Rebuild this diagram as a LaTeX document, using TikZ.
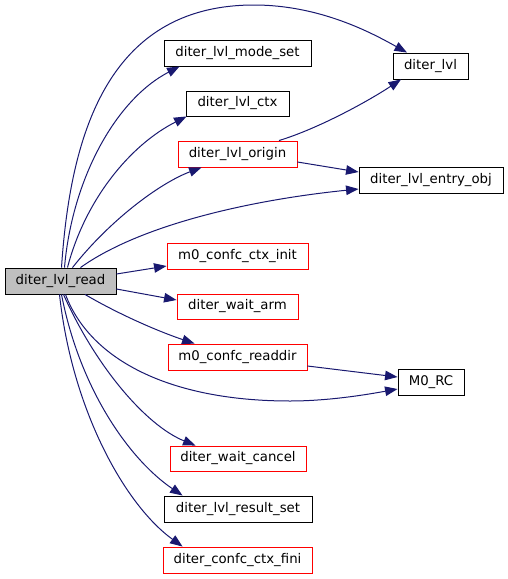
\documentclass[tikz,border=0pt]{standalone}
\usepackage{fontspec}
\setmainfont{DejaVu Sans}
\usetikzlibrary{arrows.meta,calc}
\definecolor{edgeblue}{HTML}{191970}
\definecolor{readgray}{HTML}{BFBFBF}
\begin{document}
\begin{tikzpicture}[x=1pt,y=-1pt,
  fn/.style={draw=black,line width=0.9pt,fill=white,minimum height=26pt,inner sep=0pt,
    font=\fontsize{13.3}{16}\selectfont,text=black},
  fnred/.style={fn,draw=red},
  call/.style={draw=edgeblue,line width=1pt,
    -{Triangle[length=12.5pt,width=9.5pt,fill=edgeblue]}}]
\useasboundingbox (0,0) rectangle (508,579);
\node[fn,fill=readgray,minimum width=111pt] (read) at (60.5,281) {diter\_lvl\_read};
\node[fn,minimum width=147pt] (modeset) at (237.5,53) {diter\_lvl\_mode\_set};
\node[fn,minimum width=103pt,minimum height=25pt] (ctx) at (237.5,103.5) {diter\_lvl\_ctx};
\node[fnred,minimum width=119pt] (origin) at (237.5,154) {diter\_lvl\_origin};
\node[fn,minimum width=75pt] (lvl) at (430.5,66) {diter\_lvl};
\node[fn,minimum width=144pt] (entry) at (431,180) {diter\_lvl\_entry\_obj};
\node[fnred,minimum width=141pt] (ctxinit) at (237.5,256) {m0\_confc\_ctx\_init};
\node[fnred,minimum width=121pt,minimum height=25pt] (waitarm) at (237.5,306.5) {diter\_wait\_arm};
\node[fnred,minimum width=139pt] (readdir) at (237.5,357) {m0\_confc\_readdir};
\node[fn,minimum width=66pt] (m0rc) at (431,382) {M0\_RC};
\node[fnred,minimum width=136pt,minimum height=25pt] (cancel) at (238,458.5) {diter\_wait\_cancel};
\node[fn,minimum width=148pt] (resultset) at (238,509) {diter\_lvl\_result\_set};
\node[fnred,minimum width=149pt] (fini) at (237.5,560) {diter\_confc\_ctx\_fini};

\draw[call] ([xshift=1pt]read.north) .. controls (70,140) and (105,5) .. (254,5)
  .. controls (320,5) and (372,33) .. ([xshift=-23.5pt]lvl.north);
\draw[call] ([xshift=4pt]read.north) .. controls (72,180) and (115,100) .. ([xshift=16pt]modeset.south west);
\draw[call] ([xshift=7pt]read.north) .. controls (85,200) and (130,145) .. ([xshift=1pt]ctx.south west);
\draw[call] ([xshift=12pt]read.north) .. controls (110,220) and (160,183) .. ([xshift=24pt]origin.south west);
\draw[call] ([xshift=20pt]read.north) .. controls (140,225) and (250,200) .. ([yshift=-9pt]entry.west);
\draw[call] ([xshift=41.5pt]origin.north) .. controls (320,128) and (370,100) .. ([xshift=-29.5pt]lvl.south);
\draw[call] ([yshift=-8pt]origin.east) -- ([yshift=8pt]entry.west);
\draw[call] ([yshift=7pt]read.east) -- ([yshift=-10pt]ctxinit.west);
\draw[call] ([yshift=-8pt]read.east) -- ([yshift=6.5pt]waitarm.west);
\draw[call] ([xshift=24.5pt]read.south) .. controls (120,315) and (160,332) .. ([xshift=27pt]readdir.north west);
\draw[call] ([yshift=-9pt]readdir.east) -- ([yshift=5pt]m0rc.west);
\draw[call] ([xshift=5pt]read.south) .. controls (90,360) and (170,401) .. (290,401)
  .. controls (330,401) and (370,394) .. ([yshift=-7pt]m0rc.west);
\draw[call] ([xshift=3pt]read.south) .. controls (95,365) and (145,425) .. ([xshift=26pt]cancel.north west);
\draw[call] ([xshift=1pt]read.south) .. controls (80,390) and (130,460) .. ([xshift=19pt]resultset.north west);
\draw[call] ([xshift=-1pt]read.south) .. controls (72,410) and (125,505) .. ([xshift=20pt]fini.north west);
\end{tikzpicture}
\end{document}
